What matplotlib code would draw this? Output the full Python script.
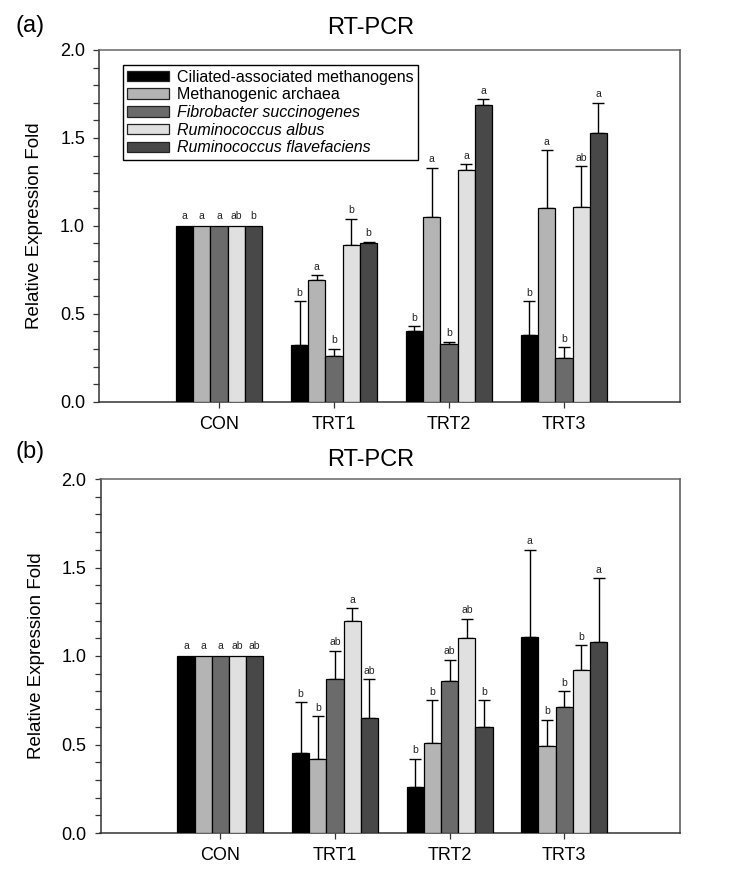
import matplotlib
matplotlib.use("Agg")
import matplotlib.pyplot as plt
import numpy as np
from matplotlib.patches import Patch
from matplotlib.ticker import MultipleLocator

plt.rcParams['font.family'] = ['Liberation Sans', 'DejaVu Sans']

categories = ['CON', 'TRT1', 'TRT2', 'TRT3']
series_names = ['Ciliated-associated methanogens', 'Methanogenic archaea',
                'Fibrobacter succinogenes', 'Ruminococcus albus',
                'Ruminococcus flavefaciens']
italic_series = [False, False, True, True, True]
colors = ['#000000', '#b4b4b4', '#6b6b6b', '#e0e0e0', '#484848']

# Panel (a)
a_cam = [1.0, 0.32, 0.40, 0.38]
a_ma = [1.0, 0.69, 1.05, 1.10]
a_fs = [1.0, 0.26, 0.33, 0.25]
a_ra = [1.0, 0.89, 1.32, 1.11]
a_rf = [1.0, 0.90, 1.69, 1.53]
a_cam_err = [0, 0.25, 0.03, 0.19]
a_ma_err = [0, 0.03, 0.28, 0.33]
a_fs_err = [0, 0.04, 0.01, 0.06]
a_ra_err = [0, 0.15, 0.03, 0.23]
a_rf_err = [0, 0.01, 0.03, 0.17]
a_cam_let = ['a', 'b', 'b', 'b']
a_ma_let = ['a', 'a', 'a', 'a']
a_fs_let = ['a', 'b', 'b', 'b']
a_ra_let = ['ab', 'b', 'a', 'ab']
a_rf_let = ['b', 'b', 'a', 'a']

# Panel (b)
b_cam = [1.0, 0.45, 0.26, 1.11]
b_ma = [1.0, 0.42, 0.51, 0.49]
b_fs = [1.0, 0.87, 0.86, 0.71]
b_ra = [1.0, 1.20, 1.10, 0.92]
b_rf = [1.0, 0.65, 0.60, 1.08]
b_cam_err = [0, 0.29, 0.16, 0.49]
b_ma_err = [0, 0.24, 0.24, 0.15]
b_fs_err = [0, 0.16, 0.12, 0.09]
b_ra_err = [0, 0.07, 0.11, 0.14]
b_rf_err = [0, 0.22, 0.15, 0.36]
b_cam_let = ['a', 'b', 'b', 'a']
b_ma_let = ['a', 'b', 'b', 'b']
b_fs_let = ['a', 'ab', 'ab', 'b']
b_ra_let = ['ab', 'a', 'ab', 'b']
b_rf_let = ['ab', 'ab', 'b', 'a']

panels = [
    dict(means=[a_cam, a_ma, a_fs, a_ra, a_rf],
         errs=[a_cam_err, a_ma_err, a_fs_err, a_ra_err, a_rf_err],
         lets=[a_cam_let, a_ma_let, a_fs_let, a_ra_let, a_rf_let],
         rect=[99/744, 1-401.7/874, 581/744, 351.7/874], legend=True,
         tag='(a)', tag_y=1-26/874, title_y=1-28/874),
    dict(means=[b_cam, b_ma, b_fs, b_ra, b_rf],
         errs=[b_cam_err, b_ma_err, b_fs_err, b_ra_err, b_rf_err],
         lets=[b_cam_let, b_ma_let, b_fs_let, b_ra_let, b_rf_let],
         rect=[100.5/744, 1-833/874, 579.5/744, 354/874], legend=False,
         tag='(b)', tag_y=1-452/874, title_y=1-460/874),
]

fig = plt.figure(figsize=(7.44, 8.74), dpi=100)
x = np.arange(len(categories))
w = 0.15
spine_c = '#333333'

for p in panels:
    ax = fig.add_axes(p['rect'])
    for i in range(5):
        xpos = x + (i - 2) * w
        ax.bar(xpos, p['means'][i], width=w, color=colors[i], edgecolor='black',
               linewidth=0.9, zorder=3)
        m = np.array(p['means'][i]); e = np.array(p['errs'][i])
        mask = e > 0
        ax.errorbar(xpos[mask], m[mask], yerr=[np.zeros(mask.sum()), e[mask]],
                    fmt='none', ecolor='black', elinewidth=1.0, capsize=4.5,
                    capthick=1.0, zorder=2)
        for j in range(len(categories)):
            top = m[j] + e[j]
            off = 2.5 if e[j] > 0 else 3.5
            ax.annotate(p['lets'][i][j], (xpos[j], top), xytext=(0, off),
                        textcoords='offset points', ha='center', va='bottom',
                        fontsize=7.5, color='#222222')
    ax.set_xlim(-1.045, 4.01)
    ax.set_ylim(0, 2.0)
    ax.yaxis.set_major_locator(MultipleLocator(0.5))
    ax.yaxis.set_minor_locator(MultipleLocator(0.1))
    ax.yaxis.set_major_formatter(matplotlib.ticker.FormatStrFormatter('%.1f'))
    ax.set_xticks(x)
    ax.set_xticklabels(categories)
    ax.tick_params(axis='y', which='both', direction='out', length=4, width=0.9,
                   color=spine_c, labelsize=13, pad=6)
    ax.tick_params(axis='x', direction='out', length=4, width=0.9, color=spine_c,
                   labelsize=13, pad=6)
    for s in ax.spines.values():
        s.set_color(spine_c)
        s.set_linewidth(1.1)
    ax.spines['top'].set_color('#666666')
    ax.spines['right'].set_color('#555555')
    ax.set_ylabel('Relative Expression Fold', fontsize=13.5)
    ax.yaxis.set_label_coords(-0.096, 0.5)
    fig.text(0.498, p['title_y'], 'RT-PCR', ha='center', va='center', fontsize=17)
    fig.text(0.021, p['tag_y'], p['tag'], ha='left', va='center', fontsize=17)
    if p['legend']:
        handles = [Patch(facecolor=colors[i], edgecolor='#222222', linewidth=0.9)
                   for i in range(5)]
        leg = ax.legend(handles, series_names, loc='upper left',
                        bbox_to_anchor=(0.041, 0.957), borderaxespad=0,
                        fontsize=11.5, handlelength=2.6, handleheight=0.65,
                        labelspacing=0.17, handletextpad=0.5, borderpad=0.28,
                        fancybox=False, framealpha=1, edgecolor='black')
        leg.get_frame().set_linewidth(1.0)
        for t, it in zip(leg.get_texts(), italic_series):
            if it:
                t.set_style('italic')

fig.savefig('out.png', dpi=100)
